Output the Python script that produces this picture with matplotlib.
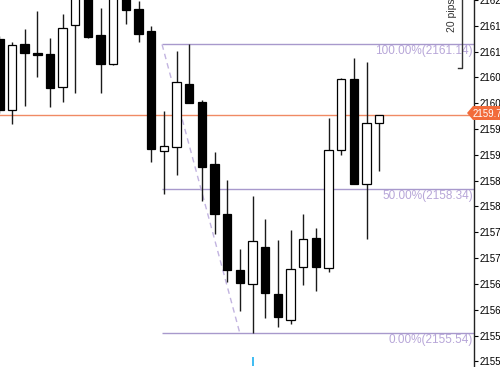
import matplotlib.pyplot as plt
from matplotlib.patches import Polygon
from matplotlib.lines import Line2D

# candle data (open, high, low, close), oldest first
opens = [2161.24, 2159.87, 2161.14, 2160.98, 2160.95, 2160.31, 2161.51, 2162.10,
         2161.33, 2160.76, 2162.10, 2161.83, 2161.39, 2159.08, 2159.16, 2160.37,
         2160.02, 2158.83, 2157.85, 2156.76, 2156.49, 2157.22, 2156.31, 2155.81,
         2156.83, 2157.39, 2156.81, 2159.10, 2160.47, 2158.43, 2159.62]
highs = [2161.30, 2161.18, 2161.43, 2161.78, 2161.26, 2161.72, 2162.15, 2162.15,
         2161.85, 2162.15, 2162.15, 2161.99, 2161.49, 2159.85, 2161.01, 2161.14,
         2160.06, 2159.06, 2158.52, 2157.18, 2158.20, 2157.76, 2157.35, 2157.54,
         2157.85, 2157.58, 2159.72, 2160.49, 2160.87, 2160.79, 2159.77]
lows = [2159.81, 2159.60, 2159.95, 2160.51, 2159.93, 2160.02, 2160.20, 2161.27,
        2160.20, 2160.74, 2161.54, 2161.18, 2158.87, 2158.24, 2158.60, 2160.01,
        2158.10, 2157.47, 2156.53, 2155.97, 2155.54, 2155.83, 2155.66, 2155.72,
        2156.47, 2156.37, 2156.74, 2158.99, 2158.43, 2157.37, 2158.68]
closes = [2159.87, 2161.12, 2160.97, 2160.93, 2160.29, 2161.45, 2162.10, 2161.29,
          2160.76, 2162.10, 2161.81, 2161.35, 2159.12, 2159.18, 2160.41, 2160.01,
          2158.77, 2157.85, 2156.76, 2156.51, 2157.33, 2156.33, 2155.85, 2156.79,
          2157.37, 2156.83, 2159.10, 2160.47, 2158.43, 2159.62, 2159.77]

# fibonacci levels
fib_pct = ['100.00%', '50.00%', '0.00%']
fib_val = [2161.14, 2158.34, 2155.54]
fib_start = 12.85
trend_end = 19.0
current_price = 2159.77
low_bar = 20

y_ticks = [2155.0 + 0.5 * k for k in range(15)]

fig = plt.figure(figsize=(5, 3.67), dpi=100)
ax = fig.add_axes([0, 0, 474 / 500, 1])
ax.set_xlim(0.052, 37.49)
ax.set_ylim(2154.89, 2161.948)

# candles
for i in range(len(opens)):
    o, h, l, c = opens[i], highs[i], lows[i], closes[i]
    ax.vlines(i, l, h, color='#1a1a1a', lw=1.0, zorder=2)
    bull = c >= o
    ax.bar(i, abs(c - o), bottom=min(o, c), width=0.66,
           color='white' if bull else 'black', edgecolor='black',
           linewidth=0.9, zorder=3)

# fib lines and labels
fib_col = '#a899cc'
for p, v in zip(fib_pct, fib_val):
    ax.hlines(v, fib_start, 37.49, color=fib_col, lw=1.0, zorder=1)
    ax.text(37.4, v - 0.02, f'{p}({v:.2f})', ha='right', va='top',
            color='#b7a6d8', fontsize=8.5, family='Liberation Sans')

# dashed trend line
ax.plot([fib_start, trend_end], [fib_val[0], fib_val[2]], ls=(0, (4, 3)),
        color='#c2b4e0', lw=1.0, zorder=1)

# current price line
ax.axhline(current_price, color='#f08a64', lw=1.0, zorder=1)

# low marker
ax.vlines(low_bar, 2154.91, 2155.08, color='#1eb0f0', lw=1.2)

# axis styling
for s in ['left', 'top', 'bottom']:
    ax.spines[s].set_visible(False)
ax.spines['right'].set_color('#222222')
ax.spines['right'].set_linewidth(1.0)
ax.set_xticks([])
ax.yaxis.tick_right()
ax.set_yticks(y_ticks)
ax.set_yticklabels([str(int(t)) for t in y_ticks])
ax.tick_params(axis='y', direction='out', length=3, width=0.8, pad=1,
               labelsize=7, labelcolor='black')
for lab in ax.get_yticklabels():
    lab.set_family('Liberation Sans')

# price tag on the axis
px = lambda x: x / 500
py = lambda y: 1 - y / 367
tag = Polygon([(px(467), py(113)), (px(473), py(106)), (px(500), py(106)),
               (px(500), py(120)), (px(473), py(120))], closed=True,
              transform=fig.transFigure, facecolor='#f26b3a', edgecolor='none')
fig.patches.append(tag)
fig.text(px(473), py(113.5), f'{current_price:.2f}', color='white', fontsize=7,
         va='center', ha='left', family='Liberation Sans')

# "20 pips" ruler
fig.text(px(452), py(32), '20 pips', rotation=90, ha='center', va='bottom',
         fontsize=7.5, color='#333333', family='Liberation Sans')
fig.lines.append(Line2D([px(462), px(462), px(458)], [py(0), py(68), py(68)],
                        transform=fig.transFigure, color='#333333', lw=1.0))

fig.savefig('out.png', dpi=100)
